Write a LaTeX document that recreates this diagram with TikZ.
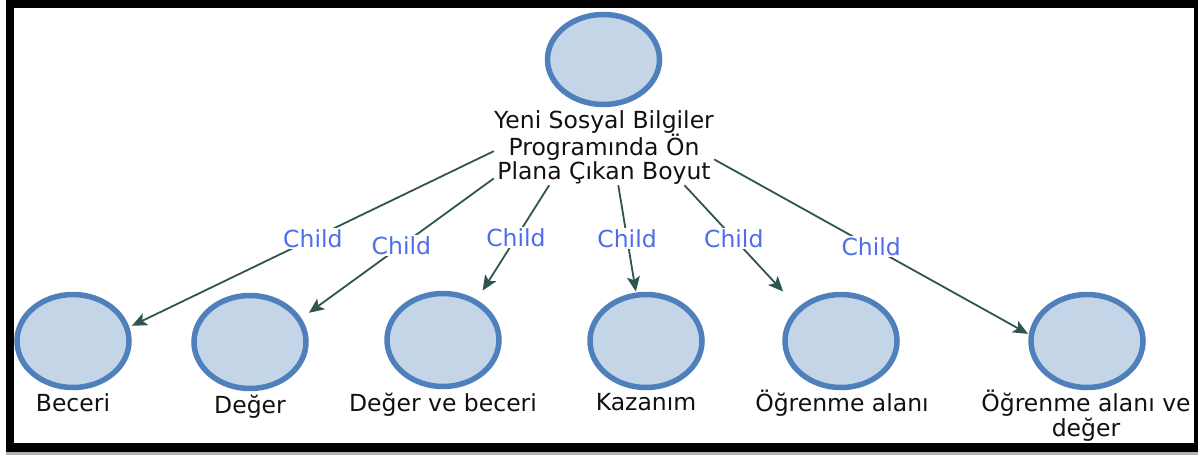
\documentclass[tikz,border=0pt]{standalone}
\usepackage{fontspec}
\setmainfont{DejaVu Sans}
\usetikzlibrary{shapes.geometric,fit,arrows.meta}
\definecolor{nodefill}{HTML}{C4D5E8}
\definecolor{nodeline}{HTML}{4F80BB}
\definecolor{conncol}{HTML}{2F5551}
\definecolor{lblblue}{HTML}{4F6DEB}
\definecolor{txtcol}{HTML}{111111}
\newcommand\lblstrut{\rule[-5pt]{0pt}{29pt}}
\begin{document}
\begin{tikzpicture}[x=1pt,y=-1pt,
  circ/.style={ellipse, draw=nodeline, fill=nodefill, line width=5.5pt,
    minimum width=112pt, minimum height=93pt, inner sep=0pt},
  txt/.style={font=\fontsize{23.5}{24.3}\selectfont, align=center, inner sep=0pt,
    anchor=north, text=txtcol},
  box/.style={inner sep=0pt, draw=none},
  conn/.style={draw=conncol, line width=1.8pt, -{Stealth[length=15pt,width=13pt,inset=3.5pt]}},
  lbl/.style={midway, fill=white, inner sep=1.5pt, text=lblblue,
    font=\fontsize{23.5}{24}\selectfont}
]
\useasboundingbox (0,0) rectangle (1198,455);
% frame
\fill[black] (6,0) rectangle (1198,452);
\fill[white] (14,8) rectangle (1194,443);
\fill[black!30] (6,452) rectangle (1198,455);

% root
\node[circ, minimum height=90pt] (r) at (603.5,59.5) {};
\node[txt] (rt) at (604,104) {\lblstrut Yeni Sosyal Bilgiler\\Programında Ön\\Plana Çıkan Boyut};
\node[box, fit=(r)(rt)] (rb) {};

% children
\node[circ] (c1) at (73,341) {};
\node[txt] (c1t) at (73,387) {\lblstrut Beceri};
\node[circ] (c2) at (250,342) {};
\node[txt] (c2t) at (250,389) {\lblstrut Değer};
\node[circ] (c3) at (443,340) {};
\node[txt] (c3t) at (443,387) {\lblstrut Değer ve beceri};
\node[circ] (c4) at (646,341) {};
\node[txt] (c4t) at (646,386) {\lblstrut Kazanım};
\node[circ] (c5) at (841,341) {};
\node[txt] (c5t) at (842,387) {\lblstrut Öğrenme alanı};
\node[circ] (c6) at (1087,341) {};
\node[txt] (c6t) at (1086,387.5) {\lblstrut Öğrenme alanı ve\\değer};

\foreach \i in {1,...,6}{
  \node[box, fit=(c\i)(c\i.south |- c\i t.south)] (b\i) {};
}

% connectors
\foreach \i in {1,...,6}{
  \draw[conn] (rb) -- node[lbl]{Child} (b\i);
}
\end{tikzpicture}
\end{document}
